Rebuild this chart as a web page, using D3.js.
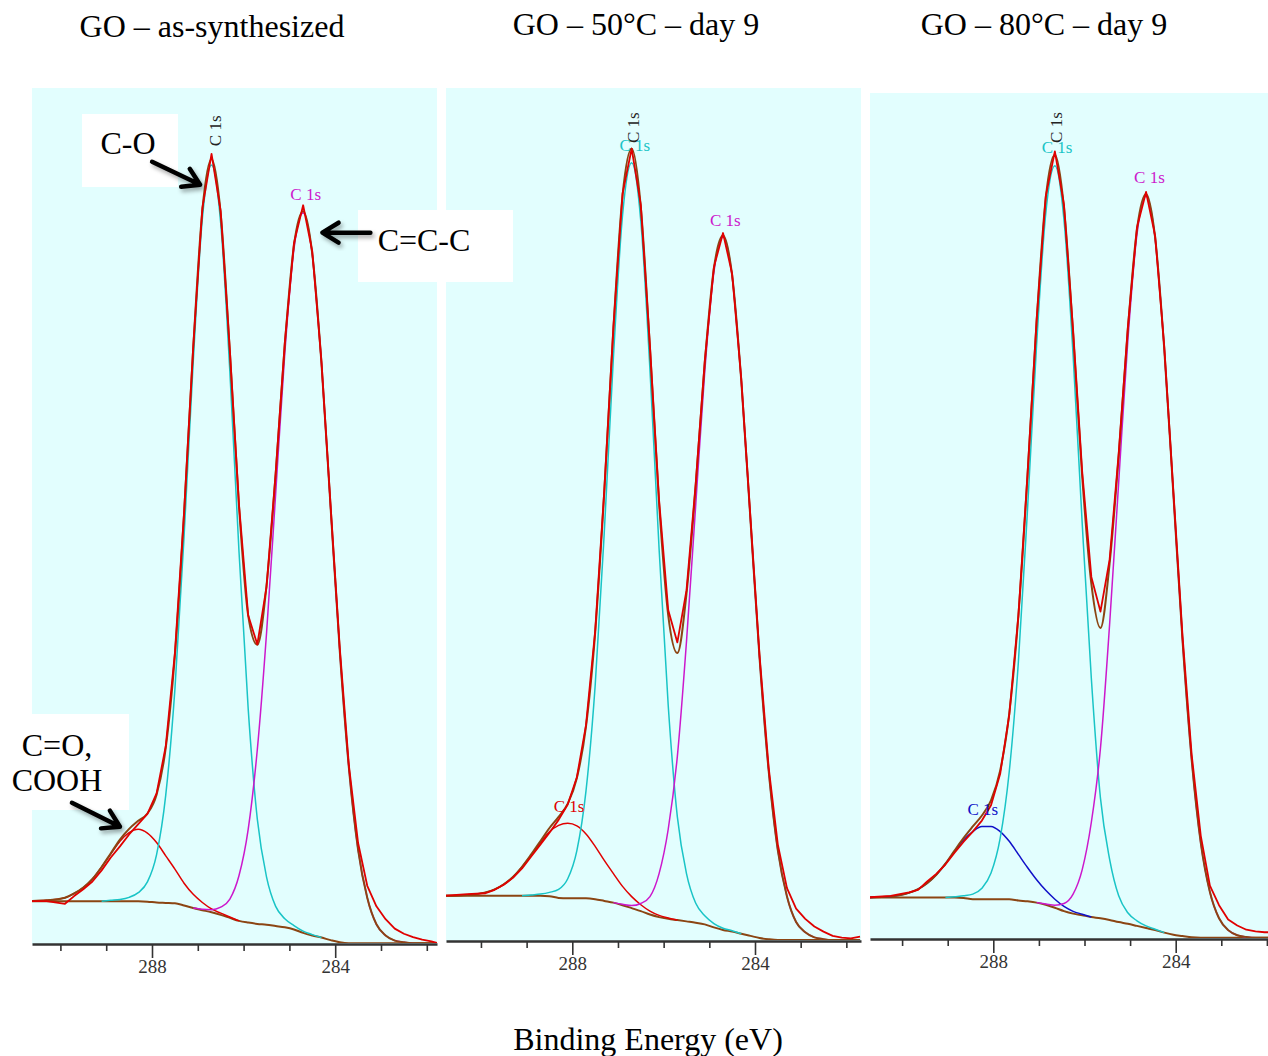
<!DOCTYPE html>
<html><head><meta charset="utf-8">
<script src="https://cdn.jsdelivr.net/npm/d3@7"></script>
<style>body{margin:0;background:#fff}svg{display:block}text{font-family:"Liberation Serif","Times New Roman",serif}</style>
</head><body>
<svg id="c" width="1268" height="1056"></svg>
<script>
// ---------- DATA ----------
// Binding energy grid (eV), panels 1 & 2
const energies = [290.8,290.3,289.9,289.7,289.5,289.3,289.1,288.9,288.7,288.5,288.3,288.1,287.9,287.7,287.5,287.3,287.1,286.9,286.7,286.5,286.3,286.1,285.9,285.7,285.5,285.3,285.1,284.9,284.7,284.5,284.3,284.1,283.9,283.7,283.5,283.3,283.1,282.9,282.7,282.5,282.3,282.1,281.9,281.7];
// Binding energy grid (eV), panel 3
const energies3 = [290.8,290.25,289.85,289.65,289.45,289.25,289.05,288.85,288.65,288.45,288.25,288.05,287.85,287.65,287.45,287.25,287.05,286.85,286.65,286.45,286.25,286.05,285.85,285.65,285.45,285.25,285.05,284.85,284.65,284.45,284.25,284.05,283.85,283.65,283.45,283.25,283.05,282.85,282.65,282.45,282.25,282.05,281.85,281.65];

// Panel 1: GO as-synthesized (intensity, % of panel height)
const bg1   = [5.0,5.0,5.0,5.0,5.0,5.0,5.0,5.0,5.0,5.0, 5.0,4.95,4.85,4.8,4.75,4.5,4.2,3.95,3.7,3.4, 3.05,2.7,2.5,2.35,2.25,2.1,1.95,1.7,1.3,1.0, 0.75,0.45,0.2,0.1,0.1,0.1,0.1,0.1,0.1,0.1, 0.1,0.1,0.1,0.1];
const cO1   = [0,0,0,0,0,0,0,0.1,0.2,0.45, 1.0,2.3,5.6,12.6,25.0,43.1,63.8,80.8,87.3,80.8, 63.8,43.1,25.0,12.2,5.6,2.3,1.0,0.45,0.2,0.1, 0,0,0,0,0,0,0,0,0,0, 0,0,0,0];
const cC1   = [0,0,0,0,0,0,0,0,0,0, 0,0,0,0,0,0,0,0.1,0.3,0.9, 2.2,5.3,10.9,20.4,34.0,50.5,67.1,79.5,84.1,79.5, 67.1,50.5,34.0,20.4,10.9,5.3,2.2,0.9,0.3,0.1, 0,0,0,0];
const cOOH1 = [0,0.1,0.4,0.9,1.6,2.6,4.0,5.5,7.0,8.0, 8.4,8.0,7.0,5.5,4.0,2.6,1.6,0.9,0.4,0.2, 0.1,0,0,0,0,0,0,0,0,0, 0,0,0,0,0,0,0,0,0,0, 0,0,0,0];
const raw1  = [5.0,5.0,4.7,5.6,6.4,7.3,8.6,10.1,11.4,12.8, 14.0,15.2,17.6,23.1,34.0,50.4,69.8,86.0,92.3,85.6, 69.4,51.3,38.4,35.0,41.7,55.0,70.3,81.9,86.3,80.9, 68.1,51.2,34.6,20.8,11.8,6.8,4.4,2.9,1.8,1.2, 0.8,0.5,0.3,0];

// Panel 2: GO 50°C day 9
const bg2   = [5.3,5.3,5.3,5.3,5.3,5.3,5.3,5.3,5.3,5.25, 5.05,5.0,5.0,5.0,4.9,4.7,4.5,4.2,3.85,3.5, 3.1,2.8,2.6,2.45,2.3,2.15,1.95,1.6,1.3,1.1, 0.85,0.6,0.35,0.2,0.12,0.12,0.12,0.12,0.12,0.12, 0.12,0.12,0.12,0.12];
const cO2   = [0,0,0,0,0,0,0,0.1,0.2,0.45, 1.0,2.3,5.6,12.6,25.0,43.2,63.9,80.9,87.4,80.9, 63.9,43.2,25.0,12.1,5.6,2.3,1.0,0.45,0.2,0.1, 0,0,0,0,0,0,0,0,0,0, 0,0,0,0];
const cC2   = [0,0,0,0,0,0,0,0,0,0, 0,0,0,0,0,0,0,0.1,0.3,0.9, 2.1,5.1,10.5,19.2,32.8,48.8,64.8,76.8,81.2,76.8, 64.8,48.8,32.8,19.7,10.5,5.1,2.1,0.9,0.3,0.1, 0,0,0,0];
const cOOH2 = [0,0.1,0.4,0.75,1.35,2.2,3.4,4.75,6.2,7.55, 8.5,8.8,8.5,7.55,6.2,4.75,3.4,2.2,1.35,0.75, 0.4,0.2,0.1,0,0,0,0,0,0,0, 0,0,0,0,0,0,0,0,0,0, 0,0,0,0];
const raw2  = [5.3,5.5,5.6,6.0,6.6,7.4,8.5,9.9,11.3,12.7, 14.2,16.0,19.2,25.3,36.3,52.8,72.0,87.6,92.9,86.3, 69.8,51.7,38.8,35.0,41.1,53.5,68.0,79.0,83.0,78.2, 65.9,49.7,33.5,20.3,11.3,6.2,3.8,2.6,1.7,1.1, 0.6,0.4,0.3,0.5];

// Panel 3: GO 80°C day 9
const bg3   = [4.9,4.9,4.9,4.9,4.9,4.9,4.9,4.9,4.85,4.7, 4.7,4.7,4.7,4.7,4.55,4.45,4.3,4.05,3.7,3.3, 3.0,2.8,2.6,2.45,2.25,2.0,1.8,1.55,1.3,1.05, 0.75,0.5,0.35,0.2,0.15,0.15,0.15,0.15,0.15,0.15, 0.15,0.15,0.15,0.15];
const cO3   = [0,0,0,0,0,0,0,0.1,0.25,0.6, 1.3,3.1,7.2,15.1,28.2,46.3,66.0,81.7,87.7,81.7, 66.0,46.3,28.2,14.2,7.2,3.1,1.3,0.6,0.25,0.1, 0,0,0,0,0,0,0,0,0,0, 0,0,0,0];
const cC3   = [0,0,0,0,0,0,0,0,0,0, 0,0,0,0,0,0,0,0.1,0.3,0.9, 2.3,5.4,11.2,20.1,34.9,52.0,68.9,81.7,86.5,81.7, 68.9,52.0,34.9,21.0,11.2,5.4,2.3,0.9,0.3,0.1, 0,0,0,0];
const cOOH3 = [0,0.13,0.55,1.0,1.7,2.7,4.0,5.45,6.85,8.0, 8.6,8.6,8.0,6.85,5.45,4.0,2.7,1.7,1.0,0.55, 0.27,0.13,0,0,0,0,0,0,0,0, 0,0,0,0,0,0,0,0,0,0, 0,0,0,0];
const raw3  = [4.9,5.1,5.5,5.8,6.8,7.7,8.8,10.2,11.5,12.7, 14.0,15.8,19.5,26.5,38.2,54.9,73.2,87.8,93.1,86.8, 72.0,55.2,42.8,38.7,44.8,57.4,72.3,84.1,88.3,83.1, 70.0,52.9,35.8,21.8,12.2,6.3,4.0,2.3,1.6,1.1, 0.9,0.8,0.8,0.8];

const tickValues = [290,289,288,287,286,285,284,283,282];
const tickLabels = [288,284];
const titles = ["GO – as-synthesized","GO – 50°C – day 9","GO – 80°C – day 9"];
const xTitle = "Binding Energy (eV)";
const peakName = "C 1s";

// ---------- STYLE / LAYOUT ----------
const COL = {cyan:"#19c4c6", mag:"#cc18cc", red:"#e00000", brown:"#8b4513", blue:"#1010c8", bgFill:"#e2fefe"};
const serif = '"Liberation Serif","Times New Roman",serif';

const panels = [
  {E:energies, bg:bg1, raw:raw1, comps:[{v:cOOH1,c:COL.red},{v:cO1,c:COL.cyan},{v:cC1,c:COL.mag}],
   left:32, right:437, top:88, axis:944, x288:152, x284:335.2, titleX:212, titleY:37,
   labels:[{E:286.49,I:93.2,c:"#222",rot:true},{E:284.645,I:86.9,c:COL.mag}]},
  {E:energies, bg:bg2, raw:raw2, comps:[{v:cOOH2,c:COL.red},{v:cO2,c:COL.cyan},{v:cC2,c:COL.mag}],
   left:446, right:861, top:88, axis:941, x288:572.3, x284:755, titleX:636, titleY:35,
   labels:[{E:286.54,I:93.55,c:"#222",rot:true},{E:286.63,I:92.6,c:COL.cyan},{E:284.65,I:83.8,c:COL.mag},{E:288.07,I:15.1,c:COL.red}]},
  {E:energies3, bg:bg3, raw:raw3, comps:[{v:cOOH3,c:COL.blue},{v:cO3,c:COL.cyan},{v:cC3,c:COL.mag}],
   left:870, right:1268, top:93, axis:939, x288:993.3, x284:1175.7, titleX:1044, titleY:35,
   labels:[{E:286.49,I:94.1,c:"#222",rot:true},{E:286.60,I:92.9,c:COL.cyan},{E:284.575,I:89.4,c:COL.mag},{E:288.23,I:14.7,c:COL.blue}]}
];

const svg = d3.select("#c");
const defs = svg.append("defs");
const f = defs.append("filter").attr("id","sh").attr("x","-30%").attr("y","-30%").attr("width","170%").attr("height","170%");
f.append("feDropShadow").attr("dx",2).attr("dy",3).attr("stdDeviation",2).attr("flood-color","#000").attr("flood-opacity",0.35);

let p1x, p1y;
panels.forEach((p,pi)=>{
  const x0 = d3.scaleLinear().domain([288,284]).range([p.x288,p.x284]);
  const x = d3.scaleLinear().domain([x0.invert(p.left), x0.invert(p.right)]).range([p.left,p.right]);
  const y = d3.scaleLinear().domain([0,100]).range([p.axis,p.top]);
  if(pi===0){p1x=x;p1y=y;}
  const g = svg.append("g");
  g.append("rect").attr("x",p.left).attr("y",p.top).attr("width",p.right-p.left).attr("height",p.axis-p.top).attr("fill",COL.bgFill);
  const cid = "clip"+pi;
  defs.append("clipPath").attr("id",cid).append("rect").attr("x",p.left).attr("y",p.top-20).attr("width",p.right-p.left).attr("height",p.axis-p.top+19);
  const plot = g.append("g").attr("clip-path",`url(#${cid})`);
  const smooth = d3.line().x(d=>x(d.e)).y(d=>y(d.v)).curve(d3.curveMonotoneX);
  const lin = d3.line().x(d=>x(d.e)).y(d=>y(d.v));

  // background
  plot.append("path").attr("d",smooth(p.E.map((e,i)=>({e,v:p.bg[i]}))))
    .attr("fill","none").attr("stroke",COL.brown).attr("stroke-width",2);
  // components on top of background
  p.comps.forEach(c=>{
    const nz = c.v.map((v,i)=>v>0?i:-1).filter(i=>i>=0);
    const a = Math.max(0,nz[0]-1), b = Math.min(c.v.length-1, nz[nz.length-1]+1);
    const pts = p.E.map((e,i)=>({e,v:p.bg[i]+c.v[i]})).slice(a,b+1);
    plot.append("path").attr("d",smooth(pts)).attr("fill","none").attr("stroke",c.c).attr("stroke-width",1.5);
  });
  // envelope
  const env = p.E.map((e,i)=>({e, v:p.bg[i]+d3.sum(p.comps,c=>c.v[i])}));
  plot.append("path").attr("d",smooth(env)).attr("fill","none").attr("stroke",COL.brown).attr("stroke-width",2);
  // raw data
  plot.append("path").attr("d",lin(p.E.map((e,i)=>({e,v:p.raw[i]}))))
    .attr("fill","none").attr("stroke",COL.red).attr("stroke-width",1.8).attr("stroke-linejoin","round");

  // axis
  const ax = d3.axisBottom(x).tickValues(tickValues).tickSize(7).tickSizeOuter(0).tickPadding(9)
    .tickFormat(d=>tickLabels.includes(d)?String(d):"");
  const axg = g.append("g").attr("transform",`translate(0,${p.axis})`).call(ax);
  axg.select(".domain").attr("stroke","#333").attr("stroke-width",2.4);
  axg.selectAll(".tick line").attr("stroke","#333").attr("stroke-width",1.6).attr("y2",d=>tickLabels.includes(d)?14:7);
  axg.selectAll(".tick text").attr("font-size",19).attr("fill","#333").attr("font-family",serif);

  // peak labels
  p.labels.forEach(l=>{
    const t = g.append("text").text(peakName).attr("fill",l.c).attr("font-size",17).attr("font-family",serif);
    if(l.rot) t.attr("transform",`translate(${x(l.E)},${y(l.I)}) rotate(-90)`).attr("text-anchor","start");
    else t.attr("x",x(l.E)).attr("y",y(l.I)).attr("text-anchor","middle");
  });

  // title
  svg.append("text").attr("x",p.titleX).attr("y",p.titleY).attr("text-anchor","middle")
    .attr("font-size",32).attr("font-family",serif).attr("fill","#000").text(titles[pi]);
});

// x title
svg.append("text").attr("x",648).attr("y",1050).attr("text-anchor","middle")
  .attr("font-size",32).attr("font-family",serif).attr("fill","#000").text(xTitle);

// annotation boxes
const boxes = [
  {x:82,y:114,w:96,h:73,lines:["C-O"],tx:128,ty:154},
  {x:358,y:210,w:155,h:72,lines:["C=C-C"],tx:424,ty:251},
  {x:0,y:714,w:129,h:96,lines:["C=O,","COOH"],tx:57,ty:756}
];
boxes.forEach(b=>{
  svg.append("rect").attr("x",b.x).attr("y",b.y).attr("width",b.w).attr("height",b.h).attr("fill","#fff");
  b.lines.forEach((ln,i)=>svg.append("text").attr("x",b.tx).attr("y",b.ty+i*35).attr("text-anchor","middle")
    .attr("font-size",32).attr("font-family",serif).attr("fill","#000").text(ln));
});

// arrows (tips in panel-1 data coordinates, tails as pixel offsets)
const arrows = [
  {E:286.95,I:88.7,dx:-48,dy:-23},
  {E:284.28,I:83.1,dx:48,dy:0},
  {E:288.70,I:13.7,dx:-48,dy:-24}
];
arrows.forEach(a=>{
  const tx=p1x(a.E), ty=p1y(a.I);
  const ang=Math.atan2(-a.dy,-a.dx), hl=19, spread=0.55;
  const h1=[tx-hl*Math.cos(ang-spread), ty-hl*Math.sin(ang-spread)];
  const h2=[tx-hl*Math.cos(ang+spread), ty-hl*Math.sin(ang+spread)];
  const gA = svg.append("g").attr("filter","url(#sh)");
  gA.append("path").attr("d",`M${tx+a.dx},${ty+a.dy}L${tx-1.5*Math.cos(ang)},${ty-1.5*Math.sin(ang)}M${h1[0]},${h1[1]}L${tx},${ty}L${h2[0]},${h2[1]}`)
    .attr("fill","none").attr("stroke","#000").attr("stroke-width",4.5).attr("stroke-linecap","round").attr("stroke-linejoin","round");
});
</script>
</body></html>
